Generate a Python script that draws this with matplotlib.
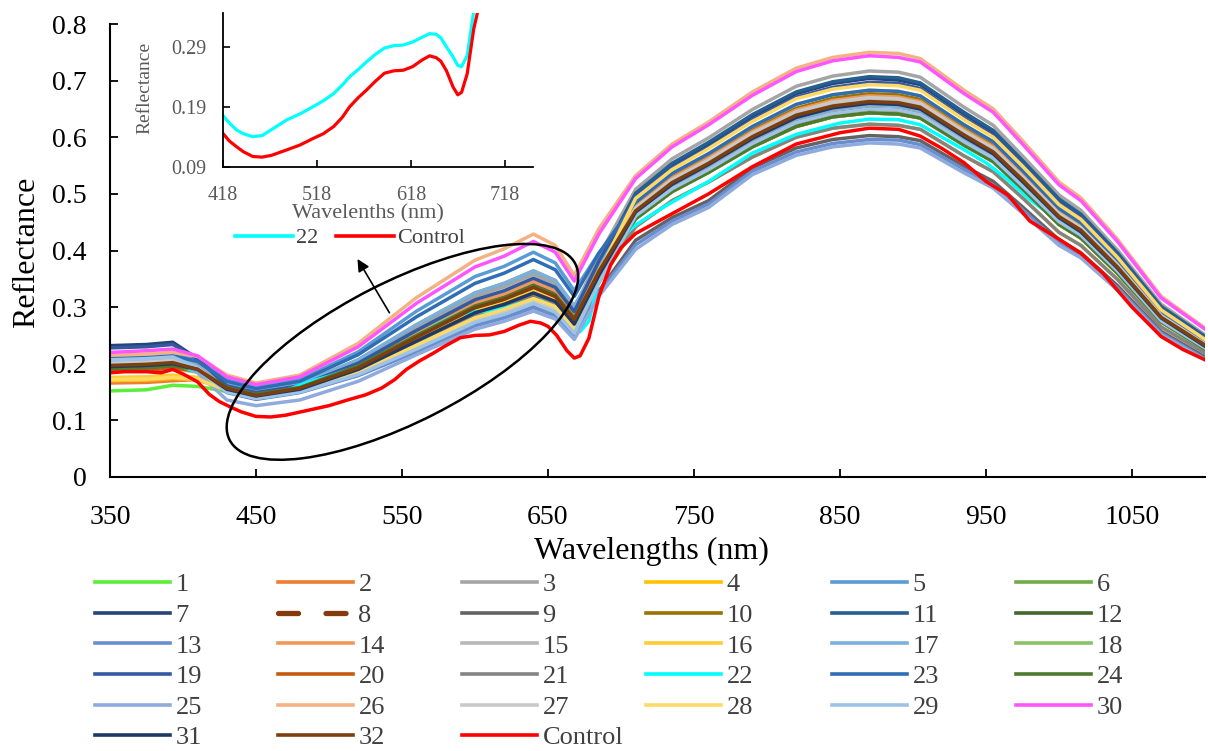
import matplotlib
matplotlib.use("Agg")
import matplotlib.pyplot as plt
from matplotlib.patches import Ellipse
from matplotlib.lines import Line2D

plt.rcParams['font.family'] = ['Liberation Serif', 'DejaVu Serif']

# wavelength grids (nm)
wl = [350, 375, 393, 410, 430, 450, 480, 520, 560, 600, 620, 640, 655, 668, 685,
      710, 735, 760, 790, 820, 845, 870, 890, 905, 935, 955, 975, 1000, 1015, 1040, 1070, 1100]
wl_fine = [350, 360, 375, 385, 393, 400, 410, 418, 425, 433, 440, 450, 460, 470, 486,
           500, 514, 525, 536, 545, 553, 562, 571, 580, 590, 600, 610, 620, 630, 638,
           645, 650, 656, 663, 668, 672, 678, 685, 693, 700, 710, 730, 760, 790, 820,
           850, 870, 890, 905, 920, 935, 950, 965, 980, 1000, 1015, 1030, 1050, 1070,
           1085, 1100]

# reflectance
s1 = [.152, .154, .162, .160, .151, .139, .151, .183, .228, .276, .290, .309, .295, .257, .344,
      .456, .504, .538, .583, .619, .636, .643, .641, .634, .586, .557, .509, .446, .422, .360, .274, .226]
s2 = [.166, .167, .170, .172, .155, .143, .155, .190, .240, .290, .305, .325, .310, .270, .360,
      .475, .525, .560, .607, .645, .662, .670, .668, .660, .610, .580, .530, .465, .440, .375, .285, .235]
s3 = [.199, .201, .204, .196, .163, .150, .163, .204, .264, .319, .336, .358, .341, .297, .391,
      .508, .562, .599, .649, .690, .708, .717, .715, .706, .653, .621, .567, .498, .471, .401, .305, .251]
s4 = [.170, .171, .174, .172, .153, .142, .153, .187, .235, .284, .299, .319, .304, .265, .344,
      .442, .488, .521, .565, .600, .616, .623, .621, .614, .567, .539, .493, .432, .409, .349, .265, .219]
s5 = [.211, .213, .216, .207, .172, .159, .172, .221, .293, .354, .372, .397, .378, .329, .396,
      .466, .515, .549, .595, .632, .649, .657, .655, .647, .598, .568, .519, .456, .431, .368, .279, .230]
s6 = [.189, .191, .194, .193, .164, .152, .164, .207, .269, .325, .342, .364, .347, .302, .374,
      .456, .504, .538, .583, .619, .636, .643, .641, .634, .586, .557, .509, .446, .422, .360, .274, .226]
s7 = [.232, .234, .238, .209, .159, .147, .159, .197, .252, .305, .320, .341, .326, .284, .378,
      .499, .551, .588, .637, .677, .695, .704, .701, .693, .641, .609, .557, .488, .462, .394, .299, .247]
s8 = [.191, .193, .196, .189, .157, .144, .157, .193, .245, .296, .311, .332, .316, .275, .362,
      .470, .520, .554, .601, .639, .655, .663, .661, .653, .604, .574, .525, .460, .436, .371, .282, .233]
s9 = [.195, .197, .200, .187, .150, .138, .150, .180, .223, .270, .284, .302, .288, .251, .329,
      .418, .458, .488, .546, .581, .596, .603, .601, .594, .549, .522, .477, .419, .396, .338, .257, .212]
s10 = [.189, .191, .194, .187, .154, .142, .154, .189, .238, .287, .302, .322, .307, .267, .360,
       .480, .530, .566, .613, .651, .669, .677, .675, .667, .616, .586, .535, .470, .444, .379, .288, .237]
s11 = [.205, .207, .210, .196, .158, .146, .158, .196, .250, .302, .317, .338, .322, .281, .377,
       .501, .554, .591, .640, .680, .698, .707, .705, .696, .644, .612, .559, .491, .464, .396, .301, .248]
s12 = [.193, .195, .198, .189, .154, .142, .154, .189, .238, .287, .302, .322, .307, .267, .353,
       .461, .509, .543, .589, .626, .642, .650, .648, .640, .592, .563, .514, .451, .427, .364, .276, .228]
s13 = [.203, .205, .208, .190, .149, .137, .149, .179, .221, .267, .281, .299, .285, .248, .326,
       .410, .452, .482, .540, .574, .589, .596, .595, .587, .543, .516, .472, .414, .392, .334, .254, .209]
s14 = [.205, .207, .210, .197, .160, .147, .160, .199, .254, .307, .323, .345, .329, .286, .372,
       .477, .528, .563, .610, .648, .665, .673, .671, .663, .613, .583, .533, .467, .442, .377, .286, .236]
s15 = [.199, .201, .204, .190, .152, .140, .152, .184, .230, .278, .293, .312, .298, .259, .352,
       .473, .522, .557, .604, .642, .659, .667, .665, .657, .607, .577, .527, .463, .438, .373, .284, .234]
s16 = [.176, .177, .180, .176, .156, .144, .156, .191, .242, .293, .308, .328, .313, .273, .365,
       .485, .536, .571, .619, .658, .675, .683, .681, .673, .622, .592, .541, .474, .449, .383, .291, .240]
s17 = [.207, .209, .212, .201, .164, .152, .164, .207, .269, .325, .342, .364, .347, .302, .378,
       .466, .515, .549, .595, .632, .649, .657, .655, .647, .598, .568, .519, .456, .431, .368, .279, .230]
s18 = [.187, .189, .192, .185, .153, .141, .153, .186, .233, .281, .296, .315, .301, .262, .347,
       .456, .504, .538, .583, .619, .636, .643, .641, .634, .586, .557, .509, .446, .422, .360, .274, .226]
s19 = [.228, .230, .234, .209, .161, .149, .161, .201, .259, .313, .329, .351, .335, .292, .382,
       .494, .546, .582, .631, .671, .688, .697, .695, .686, .634, .603, .551, .484, .458, .390, .296, .244]
s20 = [.187, .189, .192, .188, .157, .145, .157, .194, .247, .299, .314, .335, .319, .278, .360,
       .461, .509, .543, .589, .626, .642, .650, .648, .640, .592, .563, .514, .451, .427, .364, .276, .228]
s21 = [.195, .197, .200, .190, .154, .142, .154, .189, .238, .287, .302, .322, .307, .267, .346,
       .442, .488, .521, .565, .600, .616, .623, .621, .614, .567, .539, .493, .432, .409, .349, .265, .219]
s22 = [.194, .196, .197, .195, .200, .194, .185, .176, .163, .151, .145, .140, .142, .152, .168,
       .178, .190, .200, .212, .226, .240, .252, .265, .277, .288, .292, .293, .298, .306, .312,
       .311, .305, .290, .273, .259, .257, .275, .350, .395, .423, .445, .478, .522, .572, .605,
       .625, .632, .631, .622, .600, .578, .555, .525, .490, .452, .430, .400, .340, .280, .255, .228]
s23 = [.209, .211, .214, .204, .169, .156, .169, .216, .283, .342, .360, .384, .366, .319, .396,
       .485, .536, .571, .619, .658, .675, .683, .681, .673, .622, .592, .541, .474, .449, .383, .291, .240]
s24 = [.191, .193, .196, .190, .158, .146, .158, .196, .250, .302, .317, .338, .322, .281, .360,
       .456, .504, .538, .583, .619, .636, .643, .641, .634, .586, .557, .509, .446, .422, .360, .274, .226]
s25 = [.205, .207, .210, .184, .136, .126, .136, .169, .216, .261, .275, .293, .279, .243, .320,
       .402, .446, .476, .534, .568, .583, .590, .588, .581, .537, .510, .466, .409, .387, .330, .251, .207]
s26 = [.215, .217, .220, .213, .180, .166, .180, .236, .317, .383, .403, .429, .409, .356, .439,
       .532, .588, .627, .680, .722, .741, .750, .748, .739, .683, .650, .594, .521, .493, .420, .319, .263]
s27 = [.201, .203, .206, .190, .151, .139, .151, .183, .228, .276, .290, .309, .295, .257, .351,
       .475, .525, .560, .607, .645, .662, .670, .668, .660, .610, .580, .530, .465, .440, .375, .285, .235]
s28 = [.172, .173, .176, .173, .153, .141, .153, .186, .233, .281, .296, .315, .301, .262, .361,
       .492, .543, .580, .628, .668, .685, .693, .691, .683, .631, .600, .549, .481, .455, .388, .295, .243]
s29 = [.207, .209, .212, .193, .150, .139, .150, .181, .226, .273, .287, .306, .291, .254, .344,
       .461, .509, .543, .589, .626, .642, .650, .648, .640, .592, .563, .514, .451, .427, .364, .276, .228]
s30 = [.220, .223, .226, .214, .177, .163, .177, .230, .307, .371, .390, .416, .397, .346, .430,
       .527, .583, .622, .674, .716, .735, .744, .741, .733, .677, .644, .588, .516, .488, .416, .316, .261]
s31 = [.195, .197, .200, .190, .155, .143, .155, .190, .240, .290, .305, .325, .310, .270, .357,
       .468, .517, .552, .598, .635, .652, .660, .658, .650, .601, .571, .522, .458, .433, .369, .281, .231]
s32 = [.197, .199, .202, .190, .157, .144, .157, .193, .247, .299, .314, .335, .319, .278, .364,
       .470, .520, .554, .601, .639, .655, .663, .661, .653, .604, .574, .525, .460, .436, .371, .282, .233]
control = [.184, .186, .186, .184, .190, .182, .168, .146, .133, .123, .115, .107, .106, .109, .118,
           .126, .137, .145, .157, .172, .190, .205, .218, .232, .246, .250, .251, .257, .268, .275,
           .272, .266, .250, .223, .210, .214, .245, .320, .375, .405, .430, .458, .500, .548, .588,
           .608, .616, .614, .602, .580, .555, .522, .498, .452, .420, .395, .360, .300, .248, .225, .207]

series = [s1, s2, s3, s4, s5, s6, s7, s8, s9, s10, s11, s12, s13, s14, s15, s16,
          s17, s18, s19, s20, s21, s22, s23, s24, s25, s26, s27, s28, s29, s30, s31, s32,
          control]
names = [str(i) for i in range(1, 33)] + ['Control']
colors = ['#5BEF3A', '#ED7D31', '#A5A5A5', '#FFC000', '#5B9BD5', '#70AD47', '#264478',
          '#843C0C', '#636363', '#997300', '#255E91', '#43682B', '#698ED0', '#F1975A',
          '#B7B7B7', '#FFCD33', '#7CAFDD', '#8CC168', '#335AA1', '#C55A11', '#848484',
          '#00FFFF', '#2F6EB5', '#4E7A2E', '#8FAADC', '#F4B183', '#C9C9C9', '#FFD966',
          '#9DC3E6', '#FF55FF', '#1F3864', '#7B3F10', '#FF0000']

xticks = [350, 450, 550, 650, 750, 850, 950, 1050]
yticks = [0, 0.1, 0.2, 0.3, 0.4, 0.5, 0.6, 0.7, 0.8]
ytick_labels = ['0', '0.1', '0.2', '0.3', '0.4', '0.5', '0.6', '0.7', '0.8']
in_xticks = [418, 518, 618, 718]
in_yticks = [0.09, 0.19, 0.29]

W, H = 1208, 751
fig = plt.figure(figsize=(W / 100, H / 100), dpi=100)
ax = fig.add_axes([110 / W, (H - 477) / H, 1095 / W, 453 / H])

dash8 = (0, (3.8, 5.2))
handles = []
for i, ys in enumerate(series):
    xs = wl_fine if len(ys) == len(wl_fine) else wl
    ls = dash8 if names[i] == '8' else '-'
    ax.plot(xs, ys, color=colors[i], lw=2.5, ls=ls, zorder=2 + i * 0.01)
    if names[i] == '8':
        h = Line2D([], [], color=colors[i], lw=3.8, ls=dash8, dash_capstyle='round')
    else:
        h = Line2D([], [], color=colors[i], lw=2.6)
    handles.append(h)

ax.set_xlim(350, 1100)
ax.set_ylim(0, 0.8)
ax.set_xticks(xticks)
ax.set_yticks(yticks)
ax.set_yticklabels(ytick_labels)
for s in ['top', 'right']:
    ax.spines[s].set_visible(False)
for s in ['left', 'bottom']:
    ax.spines[s].set_linewidth(1.5)
ax.tick_params(direction='in', length=5.5, width=1.3, labelsize=20)
ax.tick_params(axis='y', pad=17)
ax.tick_params(axis='x', pad=20)

fig.text(27 / W, 1 - 252 / H, 'Reflectance', rotation=90, ha='center', va='center', fontsize=23)
fig.text(651 / W, 1 - 551 / H, 'Wavelengths (nm)', ha='center', va='center', fontsize=23)

# ellipse and arrow around the visible region
cx, cy = ax.transData.transform((550.3, 0.221))
ell = Ellipse((cx / 100, cy / 100), 3.88, 1.40, angle=27.0, transform=fig.dpi_scale_trans,
              fill=False, ec='black', lw=1.8, zorder=50)
fig.add_artist(ell)
ax.annotate('', xy=(519.5, 0.385), xytext=(541.4, 0.29),
            arrowprops=dict(arrowstyle='-|>', color='black', lw=1.2, mutation_scale=18,
                            shrinkA=0, shrinkB=0))

# legend, six columns laid out row-wise
col_x = [95, 278, 462, 646, 832, 1016]
for c in range(6):
    idx = list(range(c, len(names), 6))
    leg = fig.legend([handles[i] for i in idx], [names[i] for i in idx], loc='upper left',
                     bbox_to_anchor=(col_x[c] / W, (H - 573) / H), frameon=False, fontsize=19,
                     handlelength=2.85, handletextpad=0.2, labelspacing=0.27,
                     borderpad=0, borderaxespad=0)
    for t in leg.get_texts():
        t.set_color('#404040')

# inset
ax_in = fig.add_axes([222.7 / W, (H - 166.7) / H, 310.3 / W, 154 / H])
ax_in.plot(wl_fine, s22, color=colors[21], lw=2.3)
ax_in.plot(wl_fine, control, color=colors[32], lw=2.3)
ax_in.set_xlim(418, 748)
ax_in.set_ylim(0.09, 0.347)
ax_in.set_xticks(in_xticks)
ax_in.set_yticks(in_yticks)
for s in ['top', 'right']:
    ax_in.spines[s].set_visible(False)
for s in ['left', 'bottom']:
    ax_in.spines[s].set_linewidth(1.3)
ax_in.tick_params(direction='in', length=5, width=1.2, labelsize=14.5, labelcolor='#595959')
ax_in.tick_params(axis='y', pad=12)
ax_in.tick_params(axis='x', pad=14)
fig.text(368 / W, 1 - 214 / H, 'Wavelenths (nm)', ha='center', va='center', fontsize=16, color='#595959')
fig.text(145 / W, 1 - 88 / H, 'Reflectance', rotation=90, ha='center', va='center', fontsize=14, color='#595959')

leg_in = fig.legend([handles[21], handles[32]], ['22', 'Control'], ncol=2, loc='center left',
                    bbox_to_anchor=(235 / W, 1 - 238 / H), frameon=False, fontsize=16,
                    handlelength=2.6, handletextpad=0.15, columnspacing=0.8,
                    borderpad=0, borderaxespad=0)
for t in leg_in.get_texts():
    t.set_color('#404040')

fig.savefig('out.png', dpi=100)
